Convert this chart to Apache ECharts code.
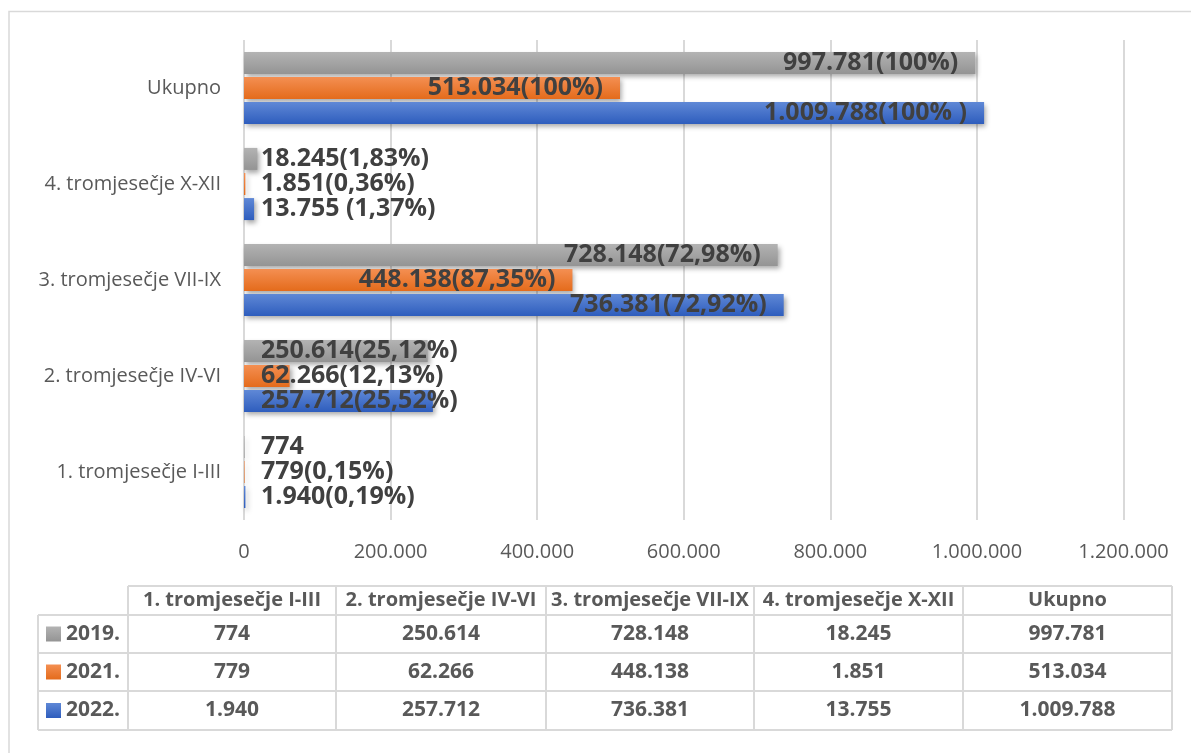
<!DOCTYPE html>
<html>
<head>
<meta charset="utf-8">
<title>Tromjesečja</title>
<script src="https://cdn.jsdelivr.net/npm/echarts@6/dist/echarts.min.js"></script>
<style>
  html, body { margin: 0; padding: 0; background: #fff; }
  #chart { width: 1191px; height: 753px; }
</style>
</head>
<body>
<div id="chart"></div>
<script>
/*
 * podaci
 */
var categories = ['1. tromjesečje I-III', '2. tromjesečje IV-VI', '3. tromjesečje VII-IX', '4. tromjesečje X-XII', 'Ukupno'];
var years = ['2019.', '2021.', '2022.'];
var values2019 = [774, 250614, 728148, 18245, 997781];
var values2021 = [779, 62266, 448138, 1851, 513034];
var values2022 = [1940, 257712, 736381, 13755, 1009788];
var labels2019 = ['774', '250.614(25,12%)', '728.148(72,98%)', '18.245(1,83%)', '997.781(100%)'];
var labels2021 = ['779(0,15%)', '62.266(12,13%)', '448.138(87,35%)', '1.851(0,36%)', '513.034(100%)'];
var labels2022 = ['1.940(0,19%)', '257.712(25,52%)', '736.381(72,92%)', '13.755 (1,37%)', '1.009.788(100% )'];
var xMin = 0;
var xMax = 1200000;
var xStep = 200000;

var FONT = '"Open Sans", "Noto Sans", sans-serif';
var TEXT_GREY = '#595959';
var LINE_GREY = '#d9d9d9';

// boje stupaca (gore, dolje)
var gradGrey = ['#b3b3b3', '#949494'];
var gradOrange = ['#f48f52', '#e46b1b'];
var gradBlue = ['#5f88d6', '#2e5dbd'];

/**
 * broj s točkom kao separatorom tisućica
 */
function formatNum(n) {
  return String(n).replace(/\B(?=(\d{3})+(?!\d))/g, '.');
}

function gradient(pair) {
  return new echarts.graphic.LinearGradient(0, 0, 0, 1, [
    { offset: 0, color: pair[0] },
    { offset: 1, color: pair[1] }
  ]);
}

function buildSeries(name, values, labels, pair) {
  return {
    name: name,
    type: 'bar',
    barWidth: 22,
    barGap: '14%',
    itemStyle: {
      color: gradient(pair),
      shadowColor: 'rgba(0,0,0,0.35)',
      shadowBlur: 5,
      shadowOffsetX: 2,
      shadowOffsetY: 3
    },
    label: {
      show: true,
      distance: 17,
      fontFamily: FONT,
      fontWeight: 'bold',
      fontSize: 25,
      color: '#404040'
    },
    data: values.map(function (v, i) {
      // kratki stupci: natpis od početka, dugi: unutar kraja
      return {
        value: v,
        label: {
          position: v > 400000 ? 'insideRight' : 'insideLeft',
          formatter: labels[i]
        }
      };
    })
  };
}

/**
 * tablica podataka ispod grafikona
 */
function buildTable() {
  var colX = [128, 336, 546, 754, 963, 1172];
  var headTop = 586;
  var rowY = [615, 653, 691, 730];
  var left = 38;
  var rows = [
    { name: years[0], values: values2019, pair: gradGrey },
    { name: years[1], values: values2021, pair: gradOrange },
    { name: years[2], values: values2022, pair: gradBlue }
  ];
  var els = [];
  var lineStyle = { stroke: LINE_GREY, lineWidth: 2 };
  var font = 'bold 20px ' + FONT;

  els.push({ type: 'line', shape: { x1: colX[0], y1: headTop, x2: colX[5], y2: headTop }, style: lineStyle });
  rowY.forEach(function (y) {
    els.push({ type: 'line', shape: { x1: left, y1: y, x2: colX[5], y2: y }, style: lineStyle });
  });
  els.push({ type: 'line', shape: { x1: left, y1: rowY[0], x2: left, y2: rowY[3] }, style: lineStyle });
  colX.forEach(function (x) {
    els.push({ type: 'line', shape: { x1: x, y1: headTop, x2: x, y2: rowY[3] }, style: lineStyle });
  });

  categories.forEach(function (c, i) {
    els.push({
      type: 'text', x: (colX[i] + colX[i + 1]) / 2, y: (headTop + rowY[0]) / 2,
      style: { text: c, fill: TEXT_GREY, font: font, textAlign: 'center', textVerticalAlign: 'middle' }
    });
  });

  rows.forEach(function (r, k) {
    var cy = (rowY[k] + rowY[k + 1]) / 2;
    els.push({
      type: 'rect', shape: { x: 46, y: cy - 7.5, width: 15, height: 15 },
      style: { fill: gradient(r.pair) }
    });
    els.push({
      type: 'text', x: 66, y: cy,
      style: { text: r.name, fill: TEXT_GREY, font: 'bold 21px ' + FONT, textAlign: 'left', textVerticalAlign: 'middle' }
    });
    r.values.forEach(function (v, i) {
      els.push({
        type: 'text', x: (colX[i] + colX[i + 1]) / 2, y: cy,
        style: { text: formatNum(v), fill: TEXT_GREY, font: 'bold 21px ' + FONT, textAlign: 'center', textVerticalAlign: 'middle' }
      });
    });
  });
  return els;
}

var options = {
  backgroundColor: '#fff',
  animation: false,
  grid: { left: 244, right: 67.5, top: 40, bottom: 233 },
  xAxis: {
    type: 'value',
    min: xMin,
    max: xMax,
    interval: xStep,
    axisLine: { show: false },
    axisTick: { show: false },
    splitLine: { lineStyle: { color: LINE_GREY, width: 2 } },
    axisLabel: {
      margin: 22,
      color: TEXT_GREY,
      fontFamily: FONT,
      fontSize: 20,
      formatter: function (v) { return formatNum(v); }
    }
  },
  yAxis: {
    type: 'category',
    data: categories,
    axisLine: { show: false },
    axisTick: { show: false },
    axisLabel: { margin: 23, color: TEXT_GREY, fontFamily: FONT, fontSize: 20 }
  },
  // prva serija je gore u grupi
  series: [
    buildSeries(years[0], values2019, labels2019, gradGrey),
    buildSeries(years[1], values2021, labels2021, gradOrange),
    buildSeries(years[2], values2022, labels2022, gradBlue)
  ],
  graphic: [
    {
      type: 'rect', z: -1, silent: true,
      shape: { x: 9, y: 11.5, width: 1300, height: 900 },
      style: { fill: 'none', stroke: LINE_GREY, lineWidth: 1.5 }
    }
  ].concat(buildTable())
};

var myEchart = echarts.init(document.getElementById('chart'));
myEchart.setOption(options);
</script>
</body>
</html>
